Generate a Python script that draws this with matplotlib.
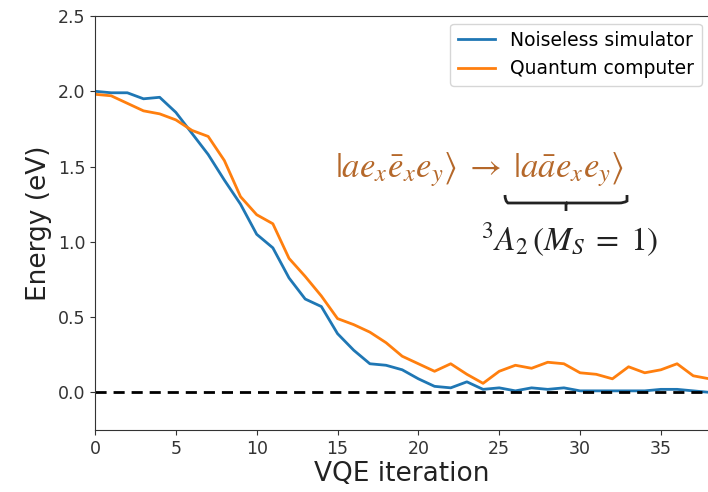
import matplotlib
matplotlib.use("Agg")
import matplotlib.pyplot as plt
import numpy as np

iterations = list(range(0, 39))
noiseless = [2.00, 1.99, 1.99, 1.95, 1.96, 1.86, 1.72, 1.58, 1.41, 1.25, 1.05, 0.96, 0.76, 0.62, 0.57, 0.39,
             0.28, 0.19, 0.18, 0.15, 0.09, 0.04, 0.03, 0.07, 0.02, 0.03, 0.01, 0.03, 0.02, 0.03, 0.01,
             0.01, 0.01, 0.01, 0.01, 0.02, 0.02, 0.01, 0.00]
quantum = [1.98, 1.97, 1.92, 1.87, 1.85, 1.81, 1.74, 1.70, 1.54, 1.30, 1.18, 1.12, 0.89, 0.77, 0.64, 0.49,
           0.45, 0.40, 0.33, 0.24, 0.19, 0.14, 0.19, 0.12, 0.06, 0.14, 0.18, 0.16, 0.20, 0.19, 0.13,
           0.12, 0.09, 0.17, 0.13, 0.15, 0.19, 0.11, 0.09]

plt.rcParams["mathtext.fontset"] = "stix"
fig = plt.figure(figsize=(7.08, 4.92), dpi=100)
ax = fig.add_axes([95/708, 1-430/492, 1-95/708 + 0.002, (430-16)/492])

ax.plot(iterations, noiseless, color="#1f77b4", lw=2, label="Noiseless simulator")
ax.plot(iterations, quantum, color="#ff7f0e", lw=2, label="Quantum computer")
ax.axhline(0, color="black", ls="--", lw=2, dashes=(4, 2.5))

ax.set_xlim(0, 38)
ax.set_ylim(-0.25, 2.5)
ax.set_xticks([0, 5, 10, 15, 20, 25, 30, 35])
ax.set_yticks([0.0, 0.5, 1.0, 1.5, 2.0, 2.5])
ax.tick_params(labelsize=12.5, colors="#333333", labelcolor="#333333")
for s in ax.spines.values():
    s.set_color("#333333")
ax.set_xlabel("VQE iteration", fontsize=19, color="#222222", labelpad=2)
ax.set_ylabel("Energy (eV)", fontsize=19, color="#222222", labelpad=4)
ax.legend(loc="upper right", fontsize=13.5, handlelength=2, borderaxespad=0.4)

brown = "#b5682a"
fig.text(480/708, 1-170/492, r"$|ae_x\bar{e}_xe_y\rangle\;\rightarrow\;|a\bar{a}e_xe_y\rangle$",
         color=brown, fontsize=25, ha="center", va="center")
fig.text(570/708, 1-240/492, r"$^3A_2\,(M_S\;=\;1)$", color="#222222", fontsize=24, ha="center", va="center")

# brace under the second ket
from matplotlib.path import Path
from matplotlib.patches import PathPatch
x0, x1, yb = 505, 627, 203
xm = (x0 + x1) / 2
verts = [(x0, 195), (x0, 201), (x0 + 3, yb), (x0 + 8, yb), (xm - 4, yb), (xm, yb), (xm, 211),
         (xm, yb), (xm + 4, yb), (x1 - 8, yb), (x1 - 3, yb), (x1, 201), (x1, 195)]
verts = [(vx / 708, 1 - vy / 492) for vx, vy in verts]
codes = [Path.MOVETO, Path.CURVE3, Path.CURVE3, Path.LINETO, Path.LINETO, Path.LINETO, Path.LINETO,
         Path.MOVETO, Path.LINETO, Path.LINETO, Path.CURVE3, Path.CURVE3, Path.LINETO]
fig.patches.append(PathPatch(Path(verts, codes), transform=fig.transFigure, fill=False, lw=2, color="#222222"))

fig.savefig("out.png", dpi=100)
